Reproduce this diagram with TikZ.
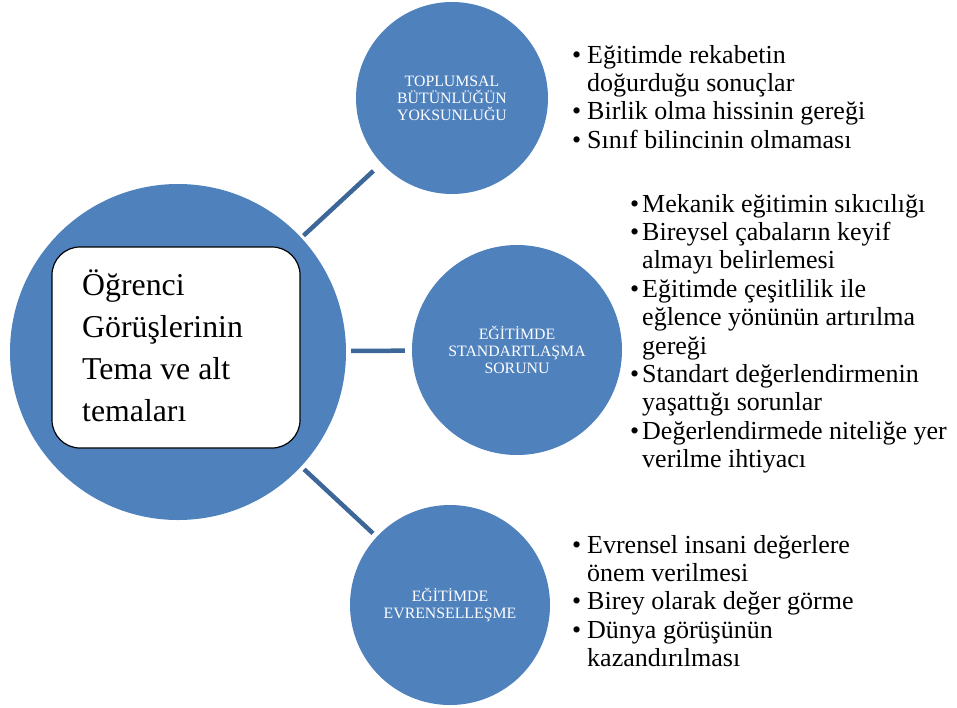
\documentclass[tikz,border=0pt]{standalone}
\usepackage{fontspec}
\setmainfont{Liberation Serif}
\definecolor{circblue}{RGB}{79,129,189}
\definecolor{linkblue}{RGB}{60,103,152}
% bullet item and continuation line inside a list
\newcommand\bitem[1]{\makebox[#1][l]{\textbullet}}
\newcommand\bcont[1]{\hspace*{#1}}
\begin{document}
\begin{tikzpicture}[x=1pt,y=-1pt,
  hub/.style={circle, fill=circblue, inner sep=0pt, minimum size=336pt},
  theme/.style={circle, fill=circblue, inner sep=0pt, text=white, align=center,
    font=\fontsize{15.8}{17}\selectfont},
  link/.style={draw=linkblue, line width=4.5pt},
  titlebox/.style={draw=black, line width=1.2pt, fill=white, rounded corners=28pt,
    inner sep=0pt, minimum width=248pt, minimum height=201pt},
  bulletlist/.style={anchor=base west, inner sep=0pt, font=\fontsize{26}{28.4}\selectfont}]
\useasboundingbox (0,0) rectangle (957,707);

% central hub and theme circles
\node[hub] (hub) at (178,352) {};
\node[theme, minimum size=192pt] (t1) at (452,98)
  {TOPLUMSAL\\BÜTÜNLÜĞÜN\\YOKSUNLUĞU};
\node[theme, minimum size=210pt] (t2) at (517,350)
  {EĞİTİMDE\\STANDARTLAŞMA\\SORUNU};
\node[theme, minimum size=200pt] (t3) at (450,605)
  {EĞİTİMDE\\EVRENSELLEŞME};

% connectors from hub to themes
\draw[link, shorten <=3pt, shorten >=11pt] (hub) -- (t1);
\draw[link, shorten <=5pt, shorten >=7pt] (hub) -- (t2);
\draw[link, shorten <=4pt, shorten >=5pt] (hub) -- (t3);

% title box inside the hub
\node[titlebox] (box) at (176,347.5) {};
\node[anchor=base west, inner sep=0pt, font=\fontsize{31.8}{42.3}\selectfont] (title) at (82,295)
  {\begin{tabular}[t]{@{}l@{}}Öğrenci\\Görüşlerinin\\Tema ve alt\\temaları\end{tabular}};

% sub-theme lists
\node[bulletlist] (l1) at (572,63)
  {\begin{tabular}[t]{@{}l@{}}
   \bitem{15pt}Eğitimde rekabetin\\
   \bcont{15pt}doğurduğu sonuçlar\\
   \bitem{15pt}Birlik olma hissinin gereği\\
   \bitem{15pt}Sınıf bilincinin olmaması
   \end{tabular}};
\node[bulletlist] (l2) at (630,212)
  {\begin{tabular}[t]{@{}l@{}}
   \bitem{12pt}Mekanik eğitimin sıkıcılığı\\
   \bitem{12pt}Bireysel çabaların keyif\\
   \bcont{12pt}almayı belirlemesi\\
   \bitem{12pt}Eğitimde çeşitlilik ile\\
   \bcont{12pt}eğlence yönünün artırılma\\
   \bcont{12pt}gereği\\
   \bitem{12pt}Standart değerlendirmenin\\
   \bcont{12pt}yaşattığı sorunlar\\
   \bitem{12pt}Değerlendirmede niteliğe yer\\
   \bcont{12pt}verilme ihtiyacı
   \end{tabular}};
\node[bulletlist] (l3) at (572,553)
  {\begin{tabular}[t]{@{}l@{}}
   \bitem{15pt}Evrensel insani değerlere\\
   \bcont{15pt}önem verilmesi\\
   \bitem{15pt}Birey olarak değer görme\\
   \bitem{15pt}Dünya görüşünün\\
   \bcont{15pt}kazandırılması
   \end{tabular}};
\end{tikzpicture}
\end{document}
